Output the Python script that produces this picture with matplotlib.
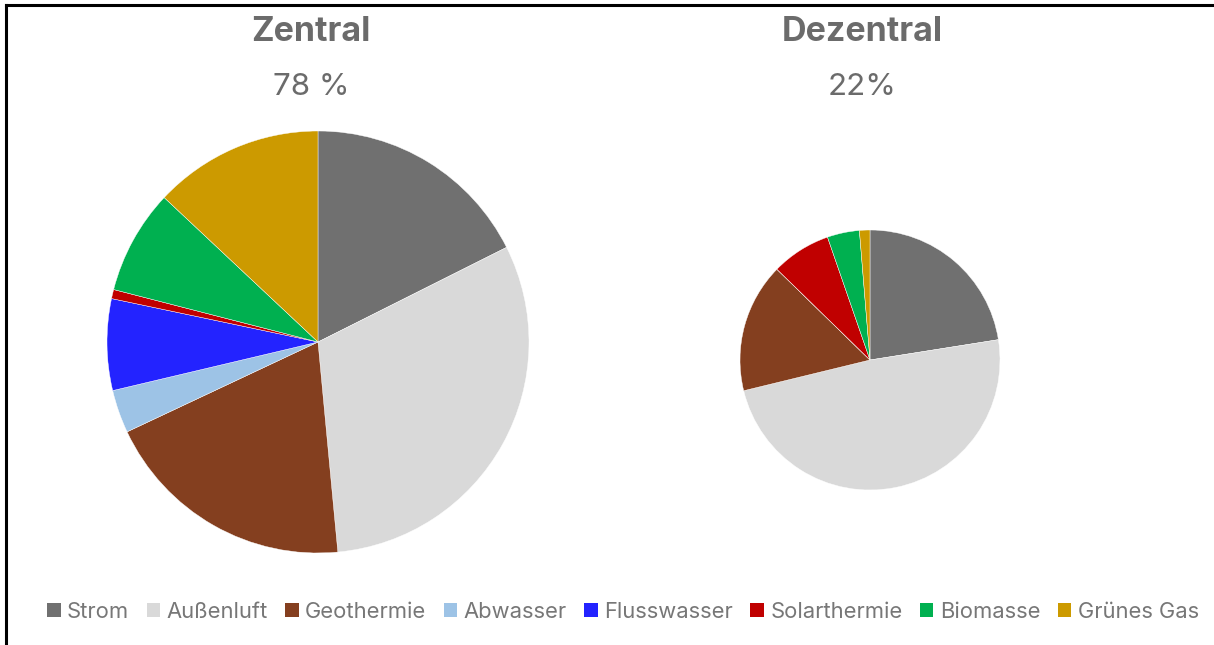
import matplotlib.pyplot as plt
from matplotlib.lines import Line2D
from matplotlib.patches import Patch

plt.rcParams["font.family"] = ["Inter", "DejaVu Sans"]

categories = ["Strom", "Außenluft", "Geothermie", "Abwasser", "Flusswasser",
              "Solarthermie", "Biomasse", "Grünes Gas"]
zentral = [17.6, 30.9, 19.5, 3.3, 7.0, 0.7, 8.0, 13.0]
dezentral = [22.5, 48.7, 16.1, 0.0, 0.0, 7.4, 4.0, 1.3]
titles = ["Zentral", "Dezentral"]
shares = ["78 %", "22%"]

COLORS = ["#707070", "#D9D9D9", "#843F1F", "#9DC3E6", "#2323FF",
          "#C00000", "#00B050", "#CC9A00"]
TEXT = "#6B6B6B"
LEG_TEXT = "#777777"

W, H = 1214, 645
fig = plt.figure(figsize=(W / 100, H / 100), dpi=100, facecolor="white")
ax = fig.add_axes([0, 0, 1, 1])

# pies drawn in pixel coordinates (y measured from bottom)
pies = [(zentral, (318, H - 342), 211), (dezentral, (870, H - 360), 130)]
for values, center, radius in pies:
    ax.pie(values, colors=COLORS, startangle=90, counterclock=False,
           center=center, radius=radius,
           wedgeprops=dict(linewidth=0.3, edgecolor="white"))

ax.set_xlim(0, W)
ax.set_ylim(0, H)
ax.set_aspect("equal")
ax.axis("off")

title_x = [311, 862]
for x, t, s in zip(title_x, titles, shares):
    ax.text(x, H - 32, t, ha="center", va="center", fontsize=24.5,
            fontweight="bold", color=TEXT)
    ax.text(x, H - 87, s, ha="center", va="center", fontsize=22.5, color=TEXT)

# legend
handles = [Patch(facecolor=c, edgecolor="none") for c in COLORS]
fig.legend(handles, categories, loc="center",
           bbox_to_anchor=(623 / W, 1 - 612 / H),
           ncol=len(categories), frameon=False, fontsize=15.8,
           labelcolor=LEG_TEXT, handlelength=0.6, handleheight=0.6,
           handletextpad=0.3, columnspacing=0.8)

# thin frame at top and left
fig.add_artist(Line2D([6 / W, 1], [1 - 5 / H, 1 - 5 / H], color="black", lw=2.2))
fig.add_artist(Line2D([6 / W, 6 / W], [0, 1 - 5 / H], color="black", lw=2.2))

fig.savefig("out.png", dpi=100, facecolor="white")
